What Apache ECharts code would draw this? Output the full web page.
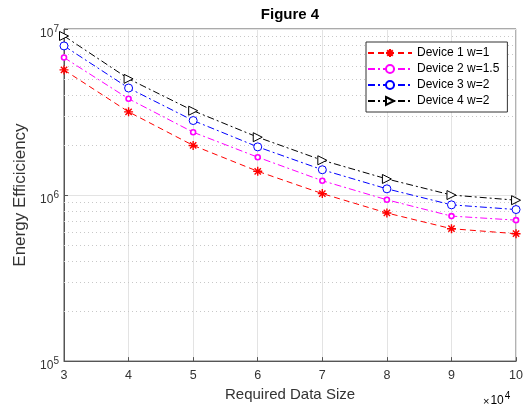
<!DOCTYPE html>
<html>
<head>
<meta charset="utf-8">
<script src="https://cdn.jsdelivr.net/npm/echarts@6/dist/echarts.min.js"></script>
<style>
html,body{margin:0;padding:0;background:#fff;}
#c{width:526px;height:407px;}
</style>
</head>
<body>
<div id="c"></div>
<script>
const xValues = [3, 4, 5, 6, 7, 8, 9, 10];
const xTickLabels = ['3', '4', '5', '6', '7', '8', '9', '10'];
const device1 = [5.67e6, 3.17e6, 1.99e6, 1.39e6, 1.02e6, 7.8e5, 6.27e5, 5.85e5];
const device2 = [6.73e6, 3.80e6, 2.39e6, 1.69e6, 1.22e6, 9.36e5, 7.47e5, 7.06e5];
const device3 = [7.91e6, 4.41e6, 2.81e6, 1.95e6, 1.42e6, 1.09e6, 8.73e5, 8.18e5];
const device4 = [9.08e6, 5.01e6, 3.22e6, 2.23e6, 1.62e6, 1.25e6, 1.0e6, 9.31e5];
const seriesNames = ['Device 1 w=1', 'Device 2 w=1.5', 'Device 3 w=2', 'Device 4 w=2'];
const minorGridValues = [2e5,3e5,4e5,5e5,6e5,7e5,8e5,9e5,2e6,3e6,4e6,5e6,6e6,7e6,8e6,9e6];

const FONT = '"Liberation Sans", Arial, sans-serif';
const TXT = '#333';
const asterisk = 'path://M5,0L5,10M0,5L10,5M1.5,1.5L8.5,8.5M1.5,8.5L8.5,1.5';
const triRight = 'path://M0,0L10,5L0,10Z';

function pairs(vals) { return xValues.map((x, i) => [x, vals[i]]); }

const chart = echarts.init(document.getElementById('c'), null, {renderer: 'canvas'});
chart.setOption({
  animation: false,
  backgroundColor: '#fff',
  textStyle: {fontFamily: FONT},
  title: {
    text: 'Figure 4', left: 290, top: 7, textAlign: 'center', padding: 0,
    textStyle: {fontFamily: FONT, fontSize: 15, fontWeight: 'bold', color: '#000'}
  },
  grid: {left: 64, right: 9, top: 29, bottom: 45, show: true, borderColor: '#555', borderWidth: 1},
  legend: {
    left: 366, top: 42, orient: 'vertical',
    itemWidth: 44, itemHeight: 10, itemGap: 4,
    padding: [5, 8, 5, 1],
    backgroundColor: '#fff', borderColor: '#333', borderWidth: 1,
    textStyle: {fontFamily: FONT, fontSize: 12, color: '#000'},
    data: seriesNames
  },
  xAxis: {
    type: 'value', min: 3, max: 10, interval: 1,
    name: 'Required Data Size', nameLocation: 'middle', nameGap: 24,
    nameTextStyle: {fontFamily: FONT, fontSize: 15, color: TXT},
    axisLine: {show: true, lineStyle: {color: '#555'}},
    axisTick: {show: true, inside: true, length: 4, lineStyle: {color: '#555'}},
    axisLabel: {fontFamily: FONT, fontSize: 12.5, color: TXT, margin: 8,
      formatter: v => xTickLabels[xValues.indexOf(v)] || ''},
    splitLine: {show: true, lineStyle: {color: '#e3e3e3', width: 1}}
  },
  yAxis: {
    type: 'log', logBase: 10, min: 1e5, max: 1e7,
    name: 'Energy Efficiciency', nameLocation: 'middle', nameGap: 31,
    nameTextStyle: {fontFamily: FONT, fontSize: 17, color: TXT},
    axisLine: {show: true, lineStyle: {color: '#555'}},
    axisTick: {show: true, inside: true, length: 4, lineStyle: {color: '#555'}},
    axisLabel: {
      margin: 5,
      padding: [6, 0, 0, 0],
      formatter: v => '{b|10}{s|' + Math.round(Math.log10(v)) + '}',
      rich: {
        b: {fontFamily: FONT, fontSize: 12, color: TXT, verticalAlign: 'bottom', padding: [4, 0, 0, 0]},
        s: {fontFamily: FONT, fontSize: 10, color: TXT, verticalAlign: 'top', padding: [0, 0, 6, 0]}
      }
    },
    splitLine: {show: true, lineStyle: {color: '#e3e3e3', width: 1}}
  },
  graphic: [{
    type: 'text', left: 483, top: 391,
    style: {
      text: '{m|×}{b|10}{s|4}',
      rich: {
        m: {fontFamily: FONT, fontSize: 11, color: TXT, verticalAlign: 'bottom', padding: [4, 1, 0, 0]},
        b: {fontFamily: FONT, fontSize: 12, color: TXT, verticalAlign: 'bottom', padding: [4, 0, 0, 0]},
        s: {fontFamily: FONT, fontSize: 10, color: TXT, verticalAlign: 'top', padding: [0, 0, 6, 1]}
      }
    }
  }],
  series: [
    {
      name: seriesNames[0], type: 'line', data: pairs(device1), z: 5,
      symbol: asterisk, symbolSize: 9,
      lineStyle: {color: '#ff0000', width: 1, type: [6, 4]},
      itemStyle: {color: '#ff0000', borderColor: '#ff0000', borderWidth: 1.4},
      markLine: {
        silent: true, symbol: 'none', label: {show: false}, z: 1,
        lineStyle: {color: '#c8c8c8', type: [1, 3], width: 1},
        data: minorGridValues.map(v => ({yAxis: v}))
      }
    },
    {
      name: seriesNames[1], type: 'line', data: pairs(device2), z: 5,
      symbol: 'circle', symbolSize: 5,
      lineStyle: {color: '#ff00ff', width: 1, type: [7, 3, 2, 3]},
      itemStyle: {color: '#ffffff', borderColor: '#ff00ff', borderWidth: 1.6}
    },
    {
      name: seriesNames[2], type: 'line', data: pairs(device3), z: 5,
      symbol: 'circle', symbolSize: 8,
      lineStyle: {color: '#0000ff', width: 1, type: [7, 3, 2, 3]},
      itemStyle: {color: '#ffffff', borderColor: '#0000ff', borderWidth: 1}
    },
    {
      name: seriesNames[3], type: 'line', data: pairs(device4), z: 5,
      symbol: triRight, symbolSize: 9,
      lineStyle: {color: '#000000', width: 1, type: [7, 3, 2, 3]},
      itemStyle: {color: '#ffffff', borderColor: '#000000', borderWidth: 1}
    }
  ]
});
</script>
</body>
</html>
